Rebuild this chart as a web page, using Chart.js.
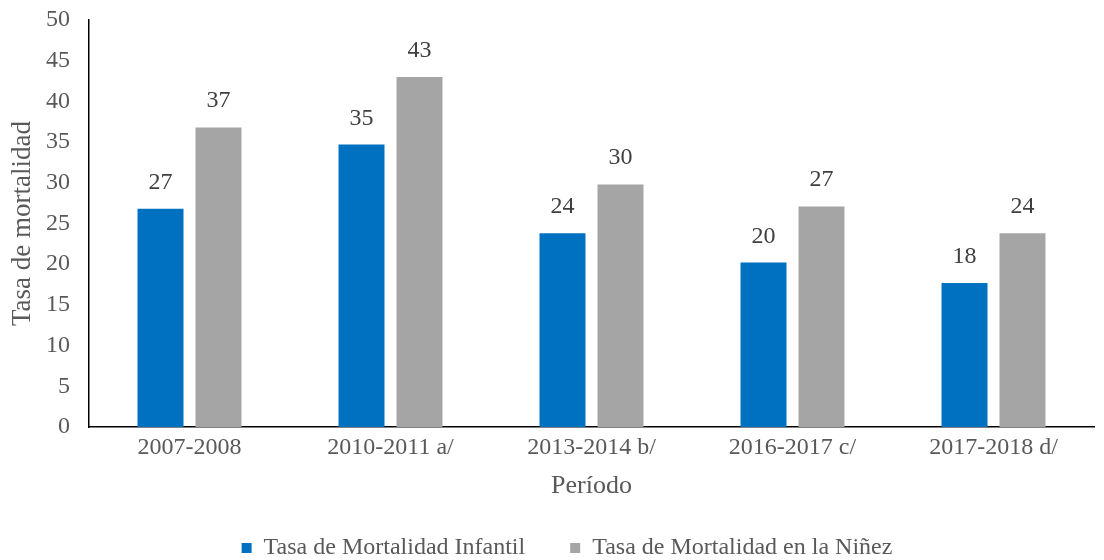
<!DOCTYPE html>
<html>
<head>
<meta charset="utf-8">
<script src="https://cdn.jsdelivr.net/npm/chart.js@4.4.1/dist/chart.umd.min.js"></script>
<style>
  html, body { margin: 0; padding: 0; background: #fff; }
  #wrap { width: 1104px; height: 560px; position: relative; }
</style>
</head>
<body>
<div id="wrap"><canvas id="chart"></canvas></div>
<script>
const periods = ["2007-2008", "2010-2011 a/", "2013-2014 b/", "2016-2017 c/", "2017-2018 d/"];
const infantil = [26.8, 34.7, 23.8, 20.2, 17.7];
const ninez = [36.8, 43.0, 29.8, 27.1, 23.8];
const seriesNames = ["Tasa de Mortalidad Infantil", "Tasa de Mortalidad en la Niñez"];

const FONT = "'Liberation Serif', 'Times New Roman', serif";
const font24 = { family: FONT, size: 24, lineHeight: 1 };
const font26 = { family: FONT, size: 26, lineHeight: 1 };

// etiquetas de valor encima de cada barra
const valueLabels = {
    id: "valueLabels",
    afterDatasetsDraw(chart) {
        const ctx = chart.ctx;
        ctx.save();
        ctx.font = "24px " + FONT;
        ctx.fillStyle = "#404040";
        ctx.textAlign = "center";
        ctx.textBaseline = "alphabetic";
        chart.data.datasets.forEach((ds, i) => {
            chart.getDatasetMeta(i).data.forEach((bar, j) => {
                ctx.fillText(Math.round(ds.data[j]), bar.x, bar.y - 20);
            });
        });
        ctx.restore();
    },
};

// la leyenda del original está algo corrida a la derecha
const legendShift = {
    id: "legendShift",
    afterLayout(chart) {
        if (chart.legend) {
            chart.legend.left += 20;
            chart.legend.right += 20;
        }
    },
};

new Chart(document.getElementById("chart"), {
    type: "bar",
    data: {
        labels: periods,
        datasets: [
            {
                label: seriesNames[0],
                data: infantil,
                backgroundColor: "#0070c0",
                categoryPercentage: 0.577,
                barPercentage: 0.793,
            },
            {
                label: seriesNames[1],
                data: ninez,
                backgroundColor: "#a5a5a5",
                categoryPercentage: 0.577,
                barPercentage: 0.793,
            },
        ],
    },
    options: {
        responsive: true,
        maintainAspectRatio: false,
        animation: false,
        layout: { padding: { top: 20, right: 10, left: 0, bottom: -10 } },
        plugins: {
            legend: {
                position: "bottom",
                labels: {
                    boxWidth: 10,
                    boxHeight: 10,
                    padding: 45,
                    color: "#595959",
                    font: font24,
                },
            },
            tooltip: { enabled: false },
        },
        scales: {
            x: {
                grid: { display: false, drawTicks: false },
                border: { color: "#000", width: 1.5 },
                ticks: { color: "#595959", font: font24, padding: 9 },
                title: {
                    display: true,
                    text: "Período",
                    color: "#595959",
                    font: font26,
                    padding: { top: 4, bottom: -8 },
                },
            },
            y: {
                min: 0,
                max: 50,
                grid: { display: false, drawTicks: false },
                border: { color: "#000", width: 1.5 },
                ticks: { stepSize: 5, color: "#595959", font: font24, padding: 19 },
                title: {
                    display: true,
                    text: "Tasa de mortalidad",
                    color: "#595959",
                    font: { family: FONT, size: 27, lineHeight: 1 },
                    padding: { top: 9, bottom: 0 },
                },
                afterFit(scale) {
                    scale.width = 89;
                    scale.paddingTop = 0;
                    scale.paddingBottom = 0;
                },
            },
        },
    },
    plugins: [valueLabels, legendShift],
});
</script>
</body>
</html>
